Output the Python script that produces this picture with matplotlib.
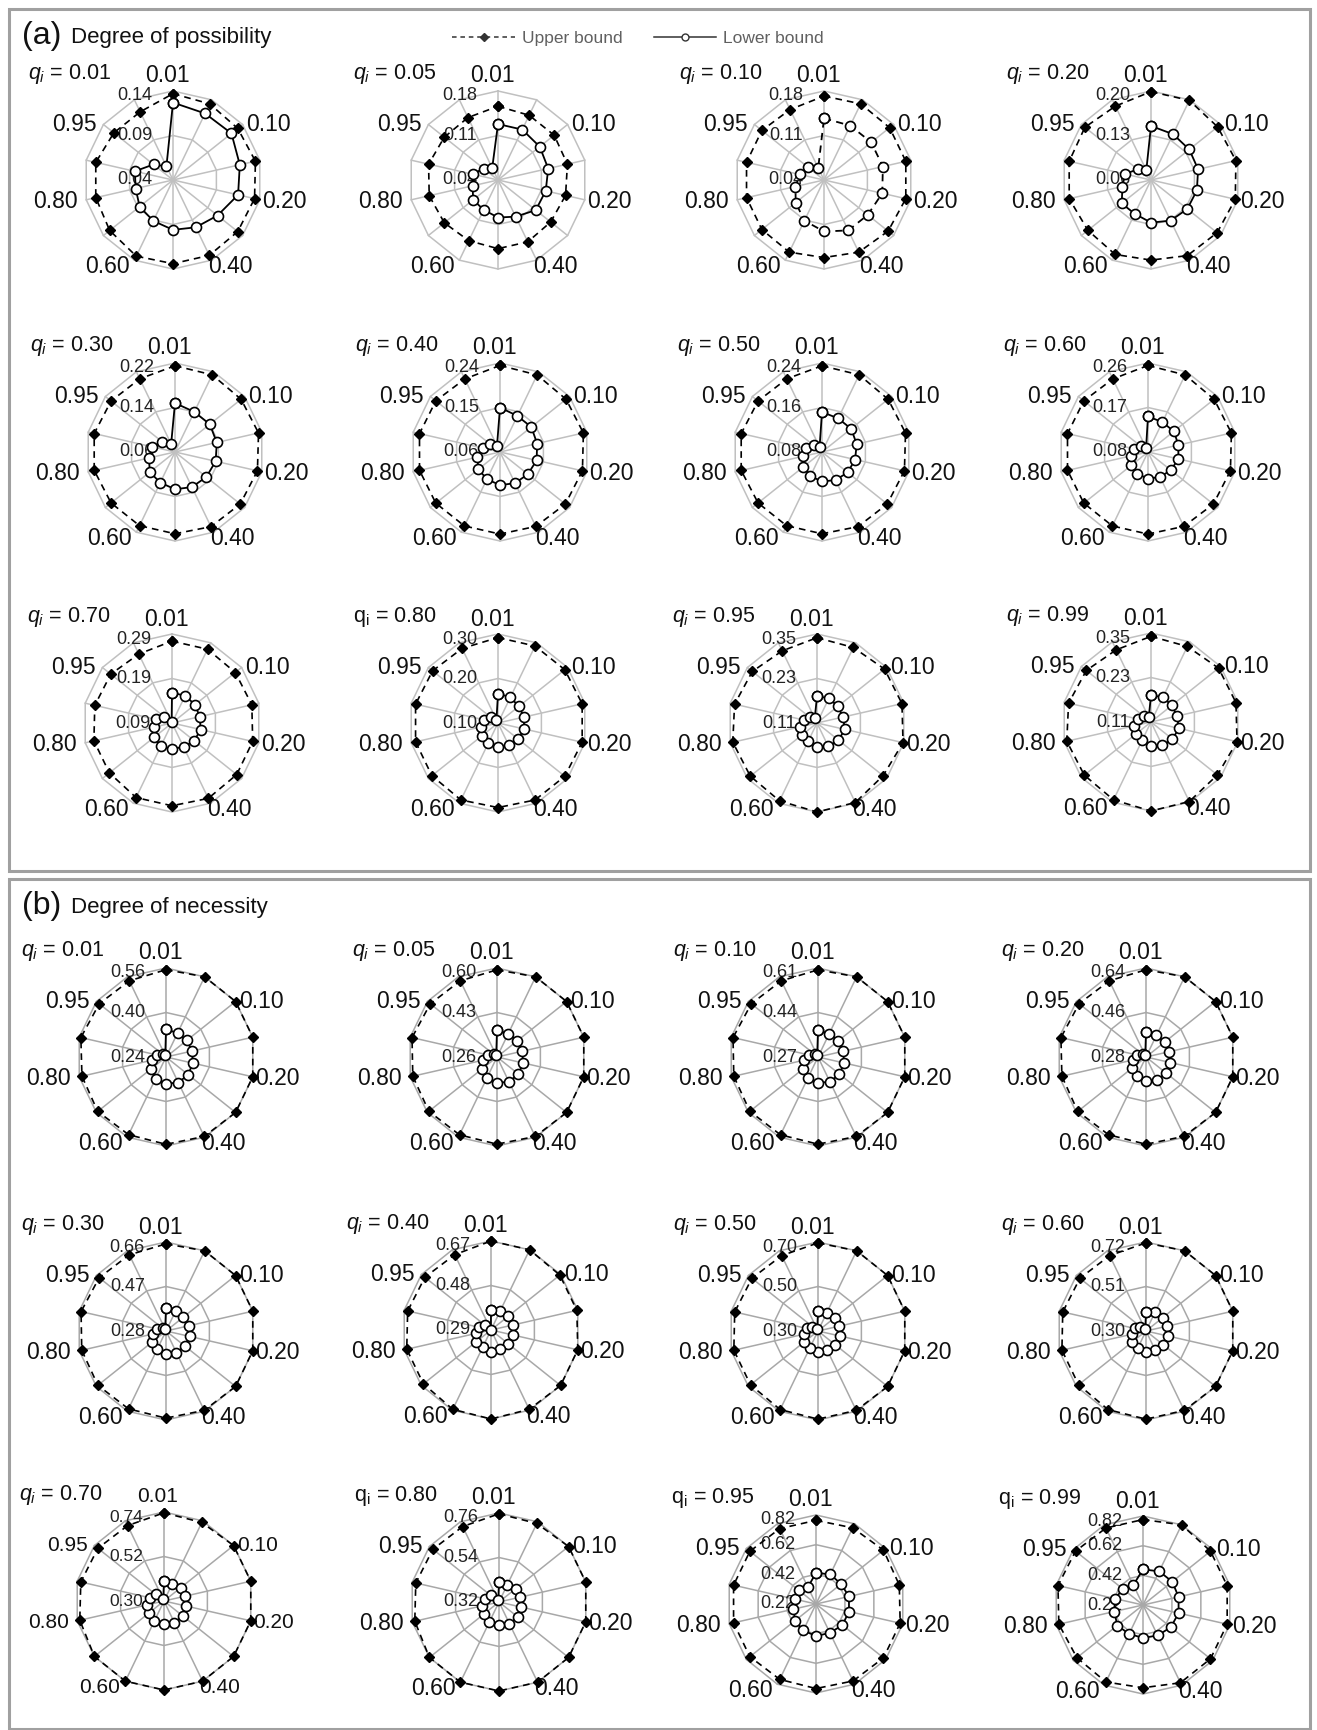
import numpy as np
import matplotlib
matplotlib.use("Agg")
import matplotlib.pyplot as plt
from matplotlib.lines import Line2D
from matplotlib.patches import Rectangle

plt.rcParams['font.family'] = ['Liberation Sans', 'DejaVu Sans']
plt.rcParams['mathtext.fontset'] = 'custom'
plt.rcParams['mathtext.rm'] = 'Liberation Sans'
plt.rcParams['mathtext.it'] = 'Liberation Sans:italic'
plt.rcParams['mathtext.bf'] = 'Liberation Sans:bold'

# ---------------- data ----------------
categories = ['0.01', '0.05', '0.10', '0.15', '0.20', '0.30', '0.40',
              '0.50', '0.60', '0.70', '0.80', '0.90', '0.95', '0.99']
shown_categories = ['0.01', '0.10', '0.20', '0.40', '0.60', '0.80', '0.95']
q_levels = ['0.01', '0.05', '0.10', '0.20', '0.30', '0.40',
            '0.50', '0.60', '0.70', '0.80', '0.95', '0.99']

# (a) Degree of possibility
poss_ticks_001 = [0.04, 0.09, 0.14]
poss_upper_001 = [0.137, 0.135, 0.133, 0.135, 0.134, 0.133, 0.134, 0.134, 0.135, 0.131, 0.129, 0.129, 0.125, 0.125]
poss_lower_001 = [0.127, 0.123, 0.124, 0.117, 0.115, 0.104, 0.099, 0.096, 0.091, 0.088, 0.083, 0.084, 0.068, 0.057]
poss_ticks_005 = [0.04, 0.11, 0.18]
poss_upper_005 = [0.156, 0.153, 0.153, 0.152, 0.149, 0.146, 0.148, 0.148, 0.146, 0.148, 0.151, 0.152, 0.148, 0.149]
poss_lower_005 = [0.128, 0.128, 0.124, 0.121, 0.117, 0.116, 0.104, 0.099, 0.092, 0.090, 0.081, 0.081, 0.069, 0.061]
poss_ticks_010 = [0.04, 0.11, 0.18]
poss_upper_010 = [0.172, 0.173, 0.172, 0.172, 0.172, 0.169, 0.166, 0.162, 0.166, 0.165, 0.165, 0.165, 0.165, 0.163]
poss_lower_010 = [0.137, 0.135, 0.135, 0.135, 0.134, 0.128, 0.128, 0.121, 0.111, 0.097, 0.086, 0.079, 0.072, 0.061]
poss_ticks_020 = [0.06, 0.13, 0.20]
poss_upper_020 = [0.199, 0.199, 0.194, 0.197, 0.196, 0.193, 0.192, 0.186, 0.190, 0.187, 0.192, 0.192, 0.193, 0.189]
poss_lower_020 = [0.145, 0.140, 0.137, 0.136, 0.134, 0.133, 0.131, 0.127, 0.119, 0.119, 0.106, 0.102, 0.087, 0.077]
poss_ticks_030 = [0.06, 0.14, 0.22]
poss_upper_030 = [0.215, 0.214, 0.212, 0.214, 0.212, 0.210, 0.209, 0.207, 0.207, 0.207, 0.209, 0.209, 0.207, 0.206]
poss_lower_030 = [0.148, 0.140, 0.140, 0.137, 0.135, 0.132, 0.130, 0.127, 0.121, 0.118, 0.108, 0.102, 0.089, 0.076]
poss_ticks_040 = [0.06, 0.15, 0.24]
poss_upper_040 = [0.235, 0.233, 0.231, 0.233, 0.231, 0.229, 0.227, 0.226, 0.226, 0.226, 0.227, 0.227, 0.226, 0.224]
poss_lower_040 = [0.150, 0.141, 0.141, 0.137, 0.136, 0.132, 0.130, 0.127, 0.121, 0.116, 0.107, 0.096, 0.085, 0.074]
poss_ticks_050 = [0.08, 0.16, 0.24]
poss_upper_050 = [0.235, 0.234, 0.232, 0.234, 0.232, 0.230, 0.229, 0.227, 0.227, 0.227, 0.229, 0.229, 0.227, 0.226]
poss_lower_050 = [0.152, 0.147, 0.147, 0.144, 0.141, 0.139, 0.136, 0.133, 0.128, 0.123, 0.115, 0.109, 0.099, 0.090]
poss_ticks_060 = [0.08, 0.17, 0.26]
poss_upper_060 = [0.255, 0.253, 0.251, 0.253, 0.251, 0.249, 0.247, 0.246, 0.246, 0.246, 0.247, 0.247, 0.246, 0.244]
poss_lower_060 = [0.152, 0.147, 0.147, 0.143, 0.143, 0.139, 0.136, 0.134, 0.129, 0.123, 0.116, 0.109, 0.098, 0.089]
poss_ticks_070 = [0.09, 0.19, 0.29]
poss_upper_070 = [0.274, 0.274, 0.272, 0.274, 0.276, 0.276, 0.278, 0.276, 0.276, 0.270, 0.270, 0.268, 0.266, 0.262]
poss_lower_070 = [0.158, 0.158, 0.156, 0.154, 0.156, 0.154, 0.150, 0.148, 0.148, 0.142, 0.132, 0.126, 0.112, 0.092]
poss_ticks_080 = [0.10, 0.20, 0.30]
poss_upper_080 = [0.292, 0.292, 0.292, 0.294, 0.294, 0.292, 0.292, 0.290, 0.292, 0.290, 0.290, 0.290, 0.288, 0.286]
poss_lower_080 = [0.166, 0.164, 0.160, 0.160, 0.160, 0.158, 0.156, 0.154, 0.150, 0.146, 0.140, 0.132, 0.120, 0.108]
poss_ticks_095 = [0.11, 0.23, 0.35]
poss_upper_095 = [0.340, 0.336, 0.343, 0.345, 0.348, 0.338, 0.348, 0.350, 0.343, 0.340, 0.343, 0.338, 0.333, 0.326]
poss_lower_095 = [0.182, 0.184, 0.182, 0.182, 0.187, 0.184, 0.180, 0.175, 0.165, 0.163, 0.156, 0.146, 0.134, 0.124]
poss_ticks_099 = [0.11, 0.23, 0.35]
poss_upper_099 = [0.341, 0.336, 0.343, 0.345, 0.348, 0.339, 0.348, 0.350, 0.343, 0.340, 0.343, 0.338, 0.333, 0.326]
poss_lower_099 = [0.182, 0.184, 0.182, 0.182, 0.187, 0.184, 0.180, 0.175, 0.165, 0.163, 0.156, 0.146, 0.134, 0.124]

# (b) Degree of necessity
nec_ticks_001 = [0.24, 0.40, 0.56]
nec_upper_001 = [0.554, 0.560, 0.560, 0.560, 0.560, 0.560, 0.557, 0.554, 0.550, 0.554, 0.550, 0.554, 0.547, 0.544]
nec_lower_001 = [0.339, 0.336, 0.336, 0.336, 0.339, 0.342, 0.342, 0.336, 0.326, 0.307, 0.291, 0.272, 0.256, 0.246]
nec_ticks_005 = [0.26, 0.43, 0.60]
nec_upper_005 = [0.593, 0.600, 0.600, 0.600, 0.600, 0.600, 0.597, 0.593, 0.590, 0.593, 0.590, 0.593, 0.586, 0.583]
nec_lower_005 = [0.362, 0.359, 0.359, 0.359, 0.362, 0.365, 0.365, 0.359, 0.348, 0.331, 0.314, 0.294, 0.277, 0.267]
nec_ticks_010 = [0.27, 0.44, 0.61]
nec_upper_010 = [0.603, 0.610, 0.610, 0.610, 0.610, 0.610, 0.607, 0.603, 0.600, 0.603, 0.600, 0.603, 0.596, 0.593]
nec_lower_010 = [0.372, 0.369, 0.369, 0.369, 0.372, 0.375, 0.375, 0.369, 0.358, 0.341, 0.324, 0.304, 0.287, 0.277]
nec_ticks_020 = [0.28, 0.46, 0.64]
nec_upper_020 = [0.633, 0.640, 0.640, 0.640, 0.640, 0.640, 0.636, 0.633, 0.629, 0.633, 0.629, 0.633, 0.626, 0.622]
nec_lower_020 = [0.381, 0.377, 0.377, 0.377, 0.381, 0.384, 0.384, 0.377, 0.366, 0.352, 0.334, 0.316, 0.298, 0.287]
nec_ticks_030 = [0.28, 0.47, 0.66]
nec_upper_030 = [0.652, 0.660, 0.660, 0.660, 0.660, 0.660, 0.656, 0.652, 0.649, 0.652, 0.649, 0.652, 0.645, 0.641]
nec_lower_030 = [0.379, 0.375, 0.375, 0.379, 0.383, 0.383, 0.383, 0.379, 0.367, 0.356, 0.337, 0.318, 0.299, 0.288]
nec_ticks_040 = [0.29, 0.48, 0.67]
nec_upper_040 = [0.670, 0.670, 0.666, 0.666, 0.670, 0.670, 0.666, 0.670, 0.666, 0.659, 0.659, 0.655, 0.651, 0.647]
nec_lower_040 = [0.377, 0.381, 0.385, 0.385, 0.385, 0.385, 0.381, 0.385, 0.370, 0.374, 0.355, 0.343, 0.324, 0.291]
nec_ticks_050 = [0.30, 0.50, 0.70]
nec_upper_050 = [0.696, 0.700, 0.700, 0.700, 0.700, 0.700, 0.696, 0.696, 0.692, 0.688, 0.688, 0.684, 0.680, 0.676]
nec_lower_050 = [0.388, 0.392, 0.396, 0.396, 0.400, 0.400, 0.396, 0.396, 0.384, 0.380, 0.364, 0.352, 0.332, 0.308]
nec_ticks_060 = [0.30, 0.51, 0.72]
nec_upper_060 = [0.716, 0.720, 0.720, 0.720, 0.720, 0.720, 0.716, 0.716, 0.712, 0.707, 0.707, 0.703, 0.699, 0.695]
nec_lower_060 = [0.392, 0.397, 0.401, 0.401, 0.405, 0.405, 0.401, 0.401, 0.388, 0.384, 0.367, 0.355, 0.334, 0.308]
nec_ticks_070 = [0.30, 0.52, 0.74]
nec_upper_070 = [0.736, 0.731, 0.740, 0.740, 0.740, 0.740, 0.740, 0.740, 0.740, 0.740, 0.727, 0.722, 0.718, 0.714]
nec_lower_070 = [0.397, 0.392, 0.406, 0.406, 0.410, 0.419, 0.419, 0.414, 0.410, 0.397, 0.384, 0.370, 0.353, 0.309]
nec_ticks_080 = [0.32, 0.54, 0.76]
nec_upper_080 = [0.756, 0.751, 0.760, 0.760, 0.760, 0.760, 0.760, 0.760, 0.760, 0.760, 0.747, 0.742, 0.738, 0.734]
nec_lower_080 = [0.417, 0.412, 0.426, 0.426, 0.430, 0.439, 0.439, 0.434, 0.430, 0.417, 0.404, 0.390, 0.373, 0.329]
nec_ticks_095 = [0.22, 0.42, 0.62, 0.82]
nec_upper_095 = [0.784, 0.790, 0.802, 0.796, 0.802, 0.802, 0.796, 0.790, 0.784, 0.790, 0.790, 0.790, 0.790, 0.784]
nec_lower_095 = [0.430, 0.442, 0.436, 0.448, 0.448, 0.448, 0.436, 0.436, 0.418, 0.400, 0.376, 0.364, 0.370, 0.346]
nec_ticks_099 = [0.22, 0.42, 0.62, 0.82]
nec_upper_099 = [0.796, 0.820, 0.802, 0.802, 0.802, 0.802, 0.802, 0.778, 0.796, 0.790, 0.802, 0.808, 0.802, 0.796]
nec_lower_099 = [0.460, 0.472, 0.472, 0.466, 0.466, 0.460, 0.448, 0.442, 0.436, 0.442, 0.418, 0.412, 0.394, 0.370]

poss_ticks = [poss_ticks_001, poss_ticks_005, poss_ticks_010, poss_ticks_020, poss_ticks_030, poss_ticks_040,
              poss_ticks_050, poss_ticks_060, poss_ticks_070, poss_ticks_080, poss_ticks_095, poss_ticks_099]
poss_upper = [poss_upper_001, poss_upper_005, poss_upper_010, poss_upper_020, poss_upper_030, poss_upper_040,
              poss_upper_050, poss_upper_060, poss_upper_070, poss_upper_080, poss_upper_095, poss_upper_099]
poss_lower = [poss_lower_001, poss_lower_005, poss_lower_010, poss_lower_020, poss_lower_030, poss_lower_040,
              poss_lower_050, poss_lower_060, poss_lower_070, poss_lower_080, poss_lower_095, poss_lower_099]
nec_ticks = [nec_ticks_001, nec_ticks_005, nec_ticks_010, nec_ticks_020, nec_ticks_030, nec_ticks_040,
             nec_ticks_050, nec_ticks_060, nec_ticks_070, nec_ticks_080, nec_ticks_095, nec_ticks_099]
nec_upper = [nec_upper_001, nec_upper_005, nec_upper_010, nec_upper_020, nec_upper_030, nec_upper_040,
             nec_upper_050, nec_upper_060, nec_upper_070, nec_upper_080, nec_upper_095, nec_upper_099]
nec_lower = [nec_lower_001, nec_lower_005, nec_lower_010, nec_lower_020, nec_lower_030, nec_lower_040,
             nec_lower_050, nec_lower_060, nec_lower_070, nec_lower_080, nec_lower_095, nec_lower_099]

# ---------------- layout (pixels) ----------------
W, H = 1317, 1730
R = 89
poss_centers = [(173, 180), (498, 180), (824, 180), (1151, 180),
                (175, 452), (500, 452), (822, 452), (1148, 452),
                (172, 723), (498, 723), (817, 723), (1151, 722)]
nec_centers = [(166, 1057), (497, 1057), (818, 1057), (1146, 1057),
               (166, 1331), (491, 1330), (818, 1331), (1146, 1331),
               (164, 1601), (499, 1602), (816, 1604), (1143, 1605)]
poss_upright = [False] * 9 + [True, False, False]
nec_upright = [False] * 9 + [True, True, True]

fig = plt.figure(figsize=(W / 100, H / 100), dpi=100)
fig.patch.set_facecolor('white')

# category label offsets (pixels) and alignment, per shown spoke index
cat_style = {0: ((-6, 15), 'center', 'center'),
             2: ((4, 0), 'left', 'center'),
             4: ((2, -2), 'left', 'center'),
             6: ((-3, -6), 'left', 'center'),
             8: ((-5, -6), 'right', 'center'),
             10: ((-8, -2), 'right', 'center'),
             12: ((-7, 0), 'right', 'center')}


def add_radar(cx, cy, ticks, upper, lower, qtext, grid_color,
              lower_ls='-', fs_cat=16.5, fs_tick=13, fs_q=15.5):
    ax = fig.add_axes([(cx - R) / W, 1 - (cy + R) / H, 2 * R / W, 2 * R / H],
                      projection='polar')
    ax.set_theta_zero_location('N')
    ax.set_theta_direction(-1)
    lo, hi = ticks[0], ticks[-1]
    ax.set_ylim(lo, hi)
    ax.grid(False)
    ax.set_xticks([])
    ax.set_yticks([])
    ax.spines['polar'].set_visible(False)
    ax.patch.set_alpha(0)
    n = len(categories)
    theta = np.arange(n) * 2 * np.pi / n
    tc = np.append(theta, theta[0])
    for t in ticks[1:]:
        ax.plot(tc, [t] * (n + 1), color=grid_color, lw=1.1, zorder=1, clip_on=False)
    for th in theta:
        ax.plot([th, th], [lo, hi], color=grid_color, lw=1.1, zorder=1, clip_on=False)
    # radial value labels
    for t in ticks:
        dy = -5 if t == hi else 0
        ax.annotate(f'{t:.2f}', xy=(0, t), xytext=(-21, dy), textcoords='offset pixels',
                    ha='right', va='center', fontsize=fs_tick, color='#222222',
                    zorder=2, annotation_clip=False)
    # category labels
    for i, c in enumerate(categories):
        if c in shown_categories:
            off, ha, va = cat_style[i]
            ax.annotate(c, xy=(theta[i], hi), xytext=off, textcoords='offset pixels',
                        ha=ha, va=va, fontsize=fs_cat, color='#111111',
                        annotation_clip=False, zorder=2)
    up = np.append(upper, upper[0])
    lw_ = np.append(lower, lower[0])
    ax.plot(tc, up, color='black', lw=1.2, ls=(0, (4, 3)), marker='D', ms=5,
            mfc='black', mec='black', zorder=4, clip_on=False)
    ax.plot(tc, lw_, color='black', lw=1.3, ls=lower_ls, marker='o', ms=7.2,
            mfc='white', mec='black', mew=1.2, zorder=5, clip_on=False)
    fig.text((cx - 145) / W, 1 - (cy - 106) / H, qtext, ha='left', va='center',
             fontsize=fs_q, color='#111111')
    return ax


for k in range(12):
    cx, cy = poss_centers[k]
    q = q_levels[k]
    qt = (r'q$_\mathrm{i}$ = ' if poss_upright[k] else r'$q_i$ = ') + q
    add_radar(cx, cy, poss_ticks[k], poss_upper[k], poss_lower[k], qt, '#C0C0C0',
              lower_ls=(0, (4, 3)) if q == '0.10' else '-')

for k in range(12):
    cx, cy = nec_centers[k]
    q = q_levels[k]
    qt = (r'q$_\mathrm{i}$ = ' if nec_upright[k] else r'$q_i$ = ') + q
    small = (k == 8)
    add_radar(cx, cy, nec_ticks[k], nec_upper[k], nec_lower[k], qt, '#A8A8A8',
              fs_cat=15 if small else 16.5, fs_tick=12.5 if small else 13)

# panel frames
frame_col = '#A0A0A0'
fig.add_artist(Rectangle((9 / W, 1 - 871 / H), (1310 - 9) / W, (871 - 9) / H,
                         transform=fig.transFigure, fill=False, ec=frame_col, lw=2.2))
fig.add_artist(Rectangle((9 / W, 1 - 1729 / H), (1310 - 9) / W, (1729 - 879) / H,
                         transform=fig.transFigure, fill=False, ec=frame_col, lw=2.2))

# panel titles
fig.text(22 / W, 1 - 36 / H, '(a)', fontsize=23, ha='left', va='center', color='#111111')
fig.text(71 / W, 1 - 38 / H, 'Degree of possibility', fontsize=16, ha='left', va='center', color='#111111')
fig.text(22 / W, 1 - 906 / H, '(b)', fontsize=23, ha='left', va='center', color='#111111')
fig.text(71 / W, 1 - 908 / H, 'Degree of necessity', fontsize=16, ha='left', va='center', color='#111111')

# legend
h_up = Line2D([], [], color='#333333', lw=1.1, ls=(0, (3, 2.5)), marker='D', ms=4)
h_lo = Line2D([], [], color='#333333', lw=1.1, ls='-', marker='o', ms=5, mfc='white', mew=1.0)
fig.legend([h_up, h_lo], ['Upper bound', 'Lower bound'], loc='center',
           bbox_to_anchor=(638 / W, 1 - 38 / H), ncol=2, frameon=False,
           fontsize=12.5, labelcolor='#606060', handlelength=3.6, handletextpad=0.4,
           columnspacing=1.8)

fig.savefig('out.png', dpi=100, facecolor='white')
